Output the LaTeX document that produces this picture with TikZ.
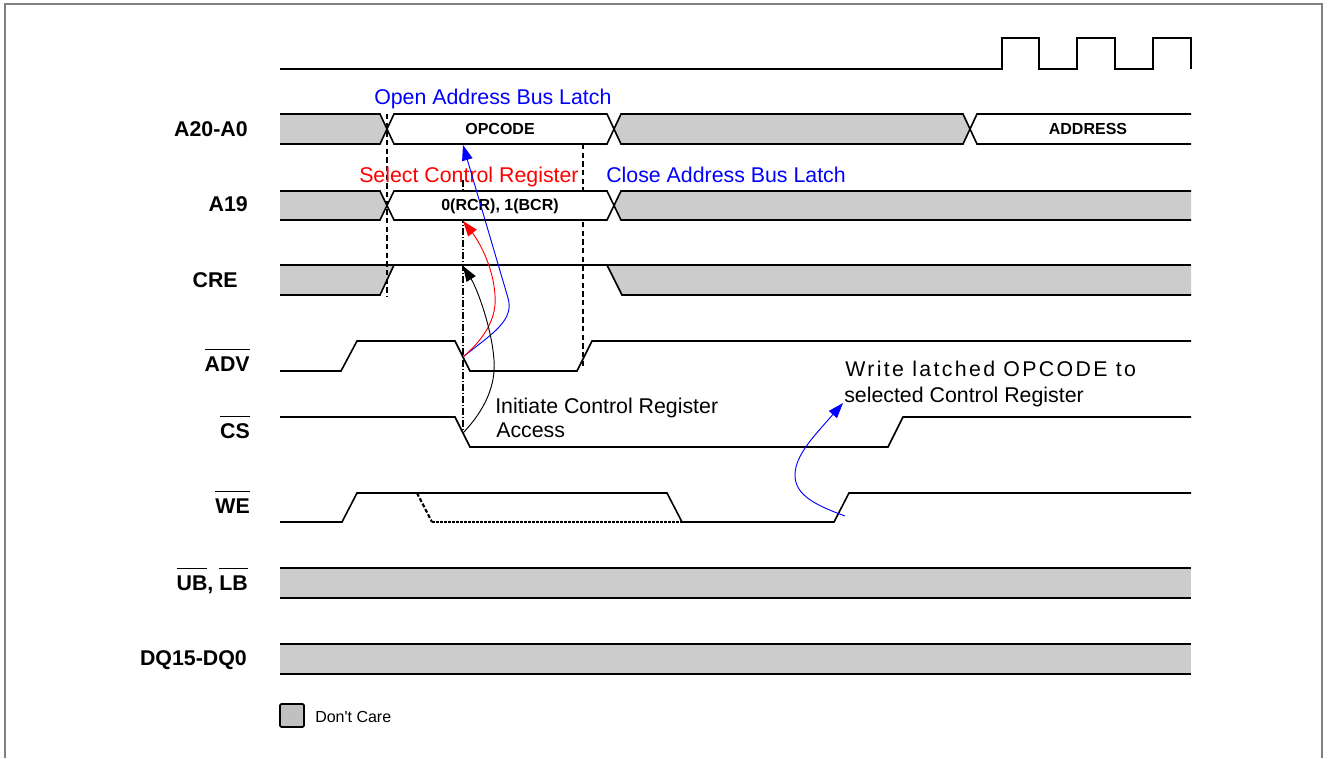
\documentclass[tikz,border=0pt]{standalone}
\usepackage{fontspec}
\setmainfont{Liberation Sans}
\usetikzlibrary{arrows.meta}
\definecolor{dcgray}{RGB}{204,204,204}
\definecolor{leggray}{RGB}{192,192,192}
\definecolor{framegray}{RGB}{128,128,128}
\newcommand\ovl[1]{\vbox{\hrule height 0.9pt\kern 4.5pt\hbox{#1}}}
\newcommand\sq{\XeTeXglyph\XeTeXcharglyph"0027\relax}
\begin{document}
\begin{tikzpicture}[x=0.75pt,y=-0.75pt,
  sig/.style={line width=1.2pt},
  vdash/.style={line width=1.1pt, dash pattern=on 4pt off 2.5pt},
  vdashdot/.style={line width=0.9pt, dash pattern=on 5pt off 1.5pt on 1pt off 1.5pt},
  lab/.style={font=\fontsize{16}{19}\selectfont\bfseries, inner sep=0pt, anchor=base east},
  buslab/.style={font=\fontsize{12}{14}\selectfont\bfseries, inner sep=0pt, anchor=base},
  ann/.style={font=\fontsize{16}{19}\selectfont, inner sep=0pt, anchor=base west},
  arr/.style={line width=0.7pt, -{Triangle[length=11.5pt,width=8pt]}},
]
\useasboundingbox (0,0) rectangle (1329,758);
\draw[framegray, line width=1.5pt] (5,758) -- (5,4) -- (1322,4) -- (1322,758);

% signal names
\node[lab] (lA) at (248,136) {A20-A0};
\node[lab] (lA19) at (248,211) {A19};
\node[lab] (lCRE) at (238,287) {CRE};
\node[lab] (lADV) at (250,371) {\ovl{ADV}};
\node[lab] (lCS) at (250,438) {\ovl{CS}};
\node[lab] (lWE) at (250,513) {\ovl{WE}};
\node[lab] (lUB) at (248,590) {\ovl{UB}, \ovl{LB}};
\node[lab] (lDQ) at (247,665) {DQ15-DQ0};

% clock
\draw[sig] (280,69) -- (1002,69) -- (1002,38) -- (1039,38) -- (1039,69) -- (1077,69) -- (1077,38) -- (1115,38) -- (1115,69) -- (1153,69) -- (1153,38) -- (1191,38) -- (1191,69);

% don't care fills
\fill[dcgray] (280,114) -- (380,114) -- (387,129) -- (380,144) -- (280,144) -- cycle;
\fill[dcgray] (614,129) -- (621,114) -- (963,114) -- (970,129) -- (963,144) -- (621,144) -- cycle;
\fill[dcgray] (280,191) -- (380,191) -- (387,205.5) -- (380,220) -- (280,220) -- cycle;
\fill[dcgray] (614,205.5) -- (621,191) -- (1191,191) -- (1191,220) -- (621,220) -- cycle;
\fill[dcgray] (280,265) -- (394,265) -- (380,295) -- (280,295) -- cycle;
\fill[dcgray] (607,265) -- (1191,265) -- (1191,295) -- (622,295) -- cycle;
\fill[dcgray] (280,568) rectangle (1191,598);
\fill[dcgray] (280,644) rectangle (1191,674);

% vertical guide lines
\draw[vdash] (387,114) -- (387,297);
\draw[vdash] (583,144) -- (583,366);
\draw[vdashdot] (463,180) -- (463,433);

% white valid regions
\fill[white] (387,129) -- (394,114) -- (607,114) -- (614,129) -- (607,144) -- (394,144) -- cycle;
\fill[white] (387,205.5) -- (394,191) -- (607,191) -- (614,205.5) -- (607,220) -- (394,220) -- cycle;

% A20-A0
\draw[sig] (280,114) -- (380,114) -- (394,144) -- (607,144) -- (621,114) -- (963,114) -- (977,144) -- (1191,144);
\draw[sig] (280,144) -- (380,144) -- (394,114) -- (607,114) -- (621,144) -- (963,144) -- (977,114) -- (1191,114);
% A19
\draw[sig] (280,191) -- (380,191) -- (394,220) -- (607,220) -- (621,191) -- (1191,191);
\draw[sig] (280,220) -- (380,220) -- (394,191) -- (607,191) -- (621,220) -- (1191,220);
% CRE
\draw[sig] (280,265) -- (1191,265);
\draw[sig] (280,295) -- (380,295) -- (394,265);
\draw[sig] (607,265) -- (622,295) -- (1191,295);
% ADV
\draw[sig] (280,371) -- (341,371) -- (357,341) -- (455,341) -- (470,371) -- (577,371) -- (592,341) -- (1191,341);
% CS
\draw[sig] (280,417) -- (455,417) -- (470,447) -- (888,447) -- (903,417) -- (1191,417);
% WE
\draw[sig] (280,522) -- (342,522) -- (357,493) -- (667,493) -- (682,522) -- (834,522) -- (849,493) -- (1191,493);
\draw[line width=1.6pt, dash pattern=on 3pt off 1.5pt] (417,493) -- (432,522);
\draw[line width=1.2pt, dash pattern=on 2pt off 1pt] (432,522) -- (682,522);
% UB LB, DQ
\draw[sig] (280,568) -- (1191,568);
\draw[sig] (280,598) -- (1191,598);
\draw[sig] (280,644) -- (1191,644);
\draw[sig] (280,674) -- (1191,674);

% bus labels
\node[buslab] (tOP) at (500,134.5) {OPCODE};
\node[buslab] (tAD) at (1088,134.5) {ADDRESS};
\node[buslab] (tRB) at (500,210.5) {0(RCR), 1(BCR)};

% annotations
\node[ann, text=blue] (tOpen) at (374,104) {Open Address Bus Latch};
\node[ann, text=red] (tSel) at (359,182) {Select Control Register};
\node[ann, text=blue] (tClose) at (606,182) {Close Address Bus Latch};
\node[ann] (tInit1) at (495,413) {Initiate Control Register};
\node[ann] (tInit2) at (496,437) {Access};
\node[ann] (tW1) at (845,376) {\addfontfeatures{LetterSpace=11}Write latched OPCODE to};
\node[ann] (tW2) at (844,402) {selected Control Register};

% arrow anchor points
\coordinate (advF) at (463,357);
\coordinate (csF) at (463,433);
\coordinate (a20b) at (463,145);
\coordinate (a19b) at (463,221);
\coordinate (creT) at (463,266);
\coordinate (weR) at (845,516);
\coordinate (wTxt) at (843,403);

\draw[arr, blue] (advF) .. controls (490,335) and (515,321) .. (508,298) -- (a20b);
\draw[arr, red] (advF) .. controls (485,338) and (497,318) .. (495,295) .. controls (493,265) and (478,240) .. (a19b);
\draw[arr, black] (csF) .. controls (485,410) and (496,385) .. (494,360) .. controls (492,330) and (478,290) .. (creT);
\draw[arr, blue] (weR) .. controls (815,505) and (795,495) .. (795,475) .. controls (795,455) and (815,435) .. (wTxt);

% legend
\draw[line width=1.3pt, fill=leggray, rounded corners=1pt] (280,704) rectangle (304,727);
\node[font=\fontsize{12}{14}\selectfont, inner sep=0pt, anchor=base west] (tLeg) at (315,722) {Don\sq t Care};
\end{tikzpicture}
\end{document}
